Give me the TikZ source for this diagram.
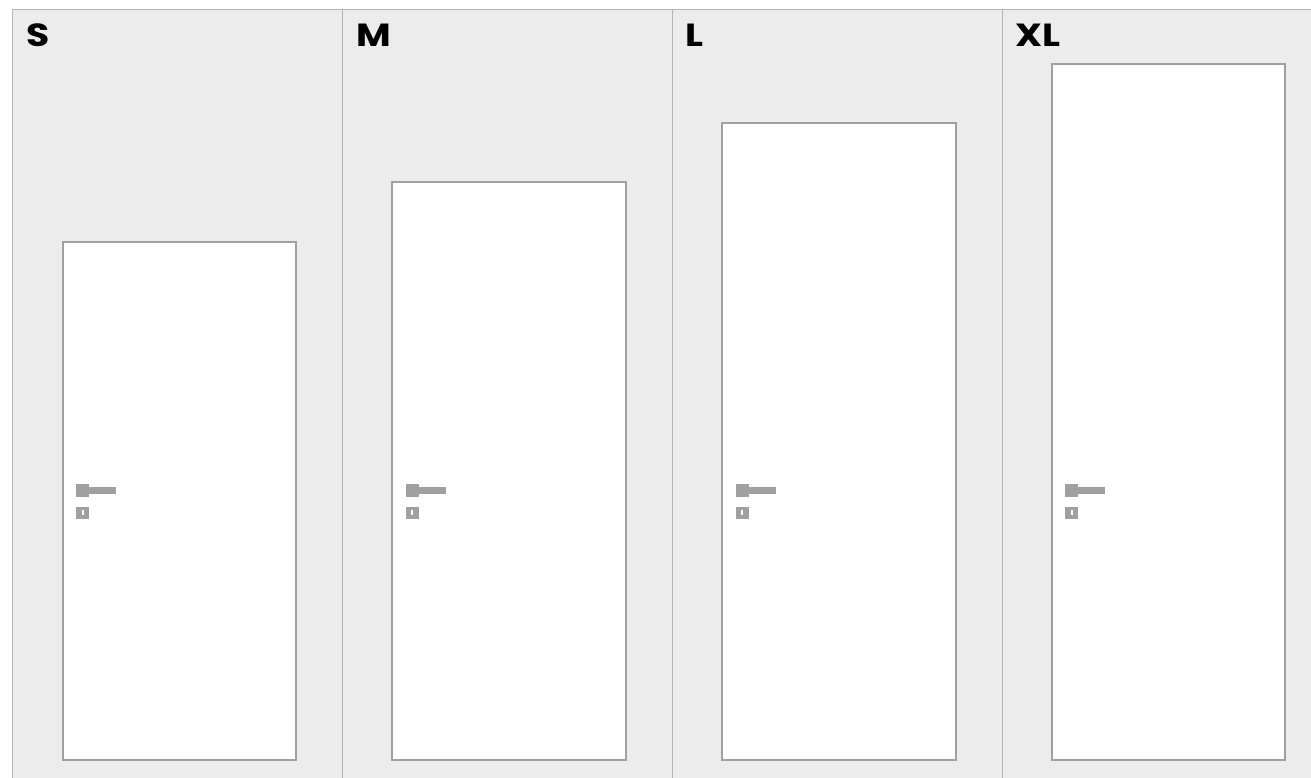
\documentclass[tikz,border=0pt]{standalone}
\usepackage{fontspec}
\usepackage{graphicx}
\setmainfont{Poppins}
\usetikzlibrary{positioning}
\definecolor{panelgrey}{HTML}{ECECEC}
\definecolor{linegrey}{HTML}{B4B4B4}
\definecolor{doorgrey}{HTML}{A0A0A0}

\begin{document}
\begin{tikzpicture}[
x=1pt, y=-1pt,
door/.style={draw=doorgrey, line width=2pt, fill=white, minimum width=233.5pt, inner sep=0pt, outer sep=0pt, anchor=south west},
handle/.style={fill=doorgrey, draw=none},
size/.style={font=\bfseries\fontsize{32}{32}\selectfont, anchor=base west, inner sep=0pt}
]
\useasboundingbox (0,0) rectangle (1311,778);
\fill[panelgrey] (12,10) rectangle (1311,778);
\draw[linegrey, line width=1pt] (12,778) -- (12,10) -- (1311,10);
\foreach \i in {1,2,3}
  \draw[linegrey, line width=1pt] (12+330*\i,10) -- (12+330*\i,778);
% one door per size
\foreach \i/\s/\top in {0/S/241.5,1/M/182.5,2/L/123,3/XL/63.7}{
  \pgfmathsetmacro{\px}{12+329.8*\i}
  \pgfmathsetmacro{\dx}{\px+50.5}
  \pgfmathsetmacro{\dh}{760.3-\top}
  \node[size] (label\s) at (\px+14,46.5) {\scalebox{1.18}[1]{\s}};
  \node[door, minimum height=\dh pt] (door\s) at (\dx,760.3) {};
  \fill[handle] (\dx+13.5,484) rectangle (\dx+26.5,497);
  \fill[handle] (\dx+26.5,487) rectangle (\dx+53.5,494);
  \fill[handle] (\dx+13.5,507) rectangle (\dx+26.5,519);
  \fill[white] (\dx+19,510) rectangle (\dx+21,515);
}
\end{tikzpicture}
\end{document}
